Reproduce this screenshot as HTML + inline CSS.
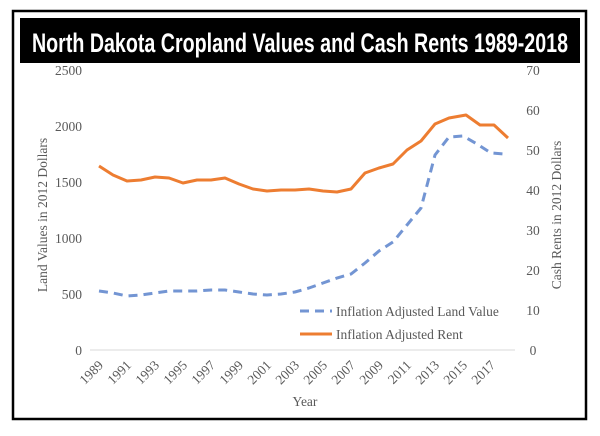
<!DOCTYPE html>
<html><head><style>
html,body{margin:0;padding:0;background:#fff;}
svg text{font-family:"Liberation Serif",serif;fill:#595959;}
</style></head><body>
<svg width="600" height="431" viewBox="0 0 600 431" xmlns="http://www.w3.org/2000/svg">
<rect x="0" y="0" width="600" height="431" fill="#fff"/>
<rect x="13" y="11" width="573" height="408" fill="none" stroke="#000" stroke-width="2.5"/>
<rect x="20" y="18" width="560" height="45" fill="#000"/>
<text x="32" y="52" textLength="536" lengthAdjust="spacingAndGlyphs" style="font-family:'Liberation Sans',sans-serif;font-weight:bold;font-size:27px;fill:#fff">North Dakota Cropland Values and Cash Rents 1989-2018</text>
<line x1="90" y1="350" x2="515" y2="350" stroke="#d9d9d9" stroke-width="1"/>
<g font-size="13.5" text-anchor="end">
<text x="82" y="75">2500</text><text x="82" y="131">2000</text><text x="82" y="187">1500</text><text x="82" y="243">1000</text><text x="82" y="299">500</text><text x="82" y="355">0</text>
</g>
<g font-size="13.5" text-anchor="middle">
<text x="533" y="75">70</text><text x="533" y="115">60</text><text x="533" y="155">50</text><text x="533" y="195">40</text><text x="533" y="235">30</text><text x="533" y="275">20</text><text x="533" y="315">10</text><text x="533" y="355">0</text>
</g>
<text transform="translate(47,215) rotate(-90)" font-size="13.5" text-anchor="middle">Land Values in 2012 Dollars</text>
<text transform="translate(561,215) rotate(-90)" font-size="13.5" text-anchor="middle">Cash Rents in 2012 Dollars</text>
<g font-size="13.5" text-anchor="end">
<text transform="translate(104,366) rotate(-45)">1989</text>
<text transform="translate(132,366) rotate(-45)">1991</text>
<text transform="translate(160,366) rotate(-45)">1993</text>
<text transform="translate(188,366) rotate(-45)">1995</text>
<text transform="translate(216,366) rotate(-45)">1997</text>
<text transform="translate(244,366) rotate(-45)">1999</text>
<text transform="translate(272,366) rotate(-45)">2001</text>
<text transform="translate(300,366) rotate(-45)">2003</text>
<text transform="translate(328,366) rotate(-45)">2005</text>
<text transform="translate(356,366) rotate(-45)">2007</text>
<text transform="translate(384,366) rotate(-45)">2009</text>
<text transform="translate(412,366) rotate(-45)">2011</text>
<text transform="translate(440,366) rotate(-45)">2013</text>
<text transform="translate(468,366) rotate(-45)">2015</text>
<text transform="translate(496,366) rotate(-45)">2017</text>
</g>
<text x="305" y="406" font-size="13.5" text-anchor="middle">Year</text>
<polyline fill="none" stroke="#4472c4" stroke-opacity="0.75" stroke-width="3" stroke-dasharray="9,6"
points="99,291 113,293 127,296 141,295 155,293 169,291 183,291 197,291 211,290 225,290 239,292 253,294 267,295 281,294 295,292 309,288 323,283 337,278 351,274 365,263 379,251 393,242 407,225 421,208 435,155 449,137 463,136 477,144 491,153 505,154"/>
<polyline fill="none" stroke="#ed7d31" stroke-width="3" stroke-linejoin="round"
points="99,166 113,175 127,181 141,180 155,177 169,178 183,183 197,180 211,180 225,178 239,184 253,189 267,191 281,190 295,190 309,189 323,191 337,192 351,189 365,173 379,168 393,164 407,150 421,141 435,124 449,118 466,115 480,125 494,125 508,138"/>
<line x1="300" y1="311" x2="332" y2="311" stroke="#4472c4" stroke-opacity="0.75" stroke-width="3" stroke-dasharray="9,6"/>
<text x="336" y="316" font-size="13.5">Inflation Adjusted Land Value</text>
<line x1="300" y1="334" x2="332" y2="334" stroke="#ed7d31" stroke-width="3"/>
<text x="336" y="339" font-size="13.5">Inflation Adjusted Rent</text>
</svg>
</body></html>
